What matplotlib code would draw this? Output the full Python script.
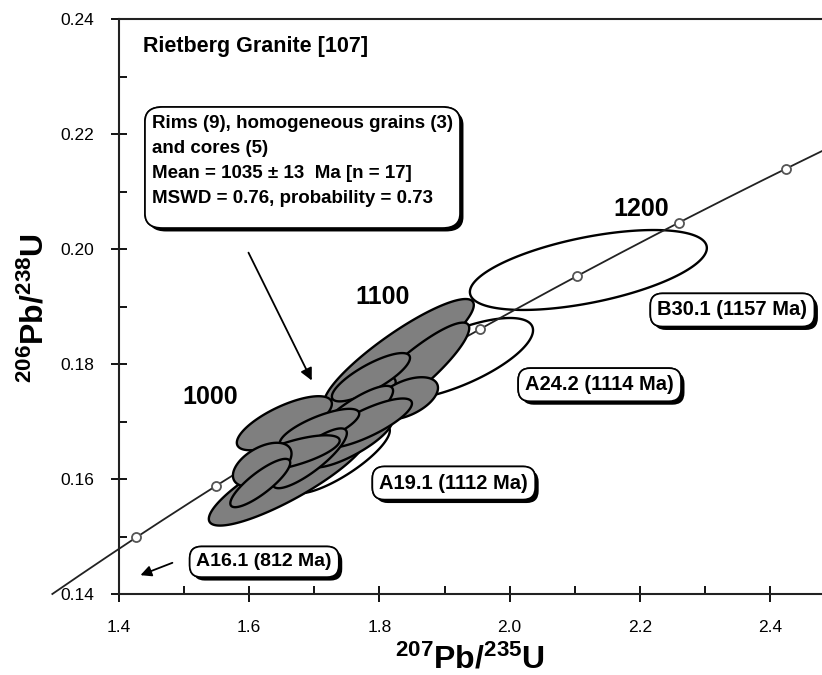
import numpy as np
import matplotlib
matplotlib.use("Agg")
import matplotlib.pyplot as plt
import matplotlib.patheffects as pe
from matplotlib.patches import FancyBboxPatch
from matplotlib.ticker import MultipleLocator

# --- data -------------------------------------------------------------
# decay constants (per year)
lam238 = 1.55125e-10
lam235 = 9.8485e-10

marker_ages = [900, 950, 1000, 1050, 1100, 1150, 1200, 1250]
label_ages = [1000, 1100, 1200]

# grey ellipses: rims, homogeneous grains and cores (x, sx, y, sy, rho)
grey_x = [1.830, 1.850, 1.660, 1.745, 1.755, 1.654, 1.787, 1.840, 1.757, 1.780, 1.708,
          1.693, 1.668, 1.620, 1.617]
grey_sx = [0.115, 0.088, 0.122, 0.080, 0.065, 0.073, 0.060, 0.050, 0.064, 0.070, 0.061,
           0.057, 0.071, 0.045, 0.046]
grey_y = [0.1818, 0.1785, 0.1602, 0.1718, 0.1665, 0.1697, 0.1777, 0.1740, 0.1708, 0.1697,
          0.1688, 0.1636, 0.1645, 0.1625, 0.1593]
grey_sy = [0.0095, 0.0087, 0.0083, 0.0060, 0.0045, 0.0047, 0.0042, 0.0037, 0.0054, 0.0043,
           0.0034, 0.0052, 0.0031, 0.0038, 0.0042]
grey_rho = [0.89, 0.89, 0.86, 0.84, 0.80, 0.72, 0.80, 0.50, 0.84, 0.80, 0.75,
            0.84, 0.70, 0.50, 0.84]

# discordant / older grains (white)
white_names = ["A19.1 (1112 Ma)", "A24.2 (1114 Ma)", "B30.1 (1157 Ma)"]
white_x = [1.740, 1.918, 2.121]
white_sx = [0.076, 0.118, 0.182]
white_y = [0.1635, 0.1809, 0.19635]
white_sy = [0.0060, 0.0071, 0.00695]
white_rho = [0.82, 0.70, 0.55]

box_text = ("Rims (9), homogeneous grains (3)\n"
            "and cores (5)\n"
            "Mean = 1035 \u00b1 13  Ma [n = 17]\n"
            "MSWD = 0.76, probability = 0.73")


def concordia(t_ma):
    t = np.asarray(t_ma) * 1e6
    return np.exp(lam235 * t) - 1, np.exp(lam238 * t) - 1


def ellipse(x0, sx, y0, sy, rho, n=200):
    a = np.linspace(0, 2 * np.pi, n)
    ex = x0 + sx * np.cos(a)
    ey = y0 + sy * (rho * np.cos(a) + np.sqrt(1 - rho ** 2) * np.sin(a))
    return ex, ey


plt.rcParams["font.family"] = ["Liberation Sans", "DejaVu Sans"]
plt.rcParams["mathtext.fontset"] = "custom"
plt.rcParams["mathtext.bf"] = "Liberation Sans:bold"
plt.rcParams["mathtext.rm"] = "Liberation Sans:bold"

fig = plt.figure(figsize=(8.22, 6.75), dpi=100)
ax = fig.add_axes([119 / 822, 1 - 594 / 675, 1 - 119 / 822, (594 - 19) / 675])
ax.set_xlim(1.4, 1.4 + (822 - 119) * 0.2 / 130.2)
ax.set_ylim(0.14, 0.24)

# white ellipses below the concordia line
for x0, sx, y0, sy, r in zip(white_x, white_sx, white_y, white_sy, white_rho):
    ex, ey = ellipse(x0, sx, y0, sy, r)
    ax.fill(ex, ey, facecolor="white", edgecolor="black", lw=1.7, zorder=1)

# concordia curve
t0 = np.log(1.14) / lam238 / 1e6
tt = np.linspace(t0, 1400, 400)
cx, cy = concordia(tt)
ax.plot(cx, cy, color="#222222", lw=1.3, zorder=2, clip_on=False)
mx, my = concordia(marker_ages)
ax.plot(mx, my, "o", ms=6.5, mfc="white", mec="#555555", mew=1.3, zorder=2)

# grey ellipses on top
for x0, sx, y0, sy, r in zip(grey_x, grey_sx, grey_y, grey_sy, grey_rho):
    ex, ey = ellipse(x0, sx, y0, sy, r)
    ax.fill(ex, ey, facecolor="#7f7f7f", edgecolor="black", lw=1.7, zorder=3)

# age labels on concordia
lab_pos = {1000: (1.540, 0.1743), 1100: (1.805, 0.1916), 1200: (2.202, 0.2069)}
for age in label_ages:
    ax.text(*lab_pos[age], str(age), fontsize=18, fontweight="bold",
            ha="center", va="center", zorder=5)

shadow = [pe.withSimplePatchShadow(offset=(2.5, -2.5), shadow_rgbFace="black", alpha=1.0),
          pe.Normal()]


def label_box(x, y, s, **kw):
    t = ax.text(x, y, s, fontweight="bold", zorder=6,
                bbox=dict(boxstyle="round,pad=0.35,rounding_size=0.6",
                          fc="white", ec="black", lw=1.2), **kw)
    t.get_bbox_patch().set_path_effects(shadow)
    return t


white_lab = [(1.800, 0.1593), (2.024, 0.1764), (2.227, 0.1894)]
for (lx, ly), s in zip(white_lab, white_names):
    label_box(lx, ly, s, fontsize=14.5, ha="left", va="center")
label_box(1.519, 0.1456, "A16.1 (812 Ma)", fontsize=14, ha="left", va="center")

# summary box
summary = FancyBboxPatch((26 / 703, 366 / 575), 315 / 703, 121 / 575,
                         boxstyle="round,pad=0,rounding_size=0.025",
                         transform=ax.transAxes, fc="white", ec="black", lw=1.2,
                         zorder=6)
summary.set_path_effects(shadow)
ax.add_patch(summary)
ax.text(33 / 703, 479 / 575, box_text, transform=ax.transAxes, fontsize=13.5,
        fontweight="bold", ha="left", va="top", linespacing=1.62, zorder=7)

ax.text(1.4365, 0.2352, "Rietberg Granite [107]", fontsize=15.5, fontweight="bold",
        ha="left", va="center")

ax.annotate("", xy=(1.698, 0.1767), xytext=(1.597, 0.1998),
            arrowprops=dict(arrowstyle="-|>", color="black", lw=1.3, mutation_scale=18))
ax.annotate("", xy=(1.429, 0.1431), xytext=(1.486, 0.1456),
            arrowprops=dict(arrowstyle="-|>", color="black", lw=1.3, mutation_scale=16),
            annotation_clip=False)

# axes styling
ax.spines["right"].set_visible(False)
for s in ["left", "bottom", "top"]:
    ax.spines[s].set_linewidth(1.5)
    ax.spines[s].set_color("#222222")
ax.xaxis.set_major_locator(MultipleLocator(0.2))
ax.xaxis.set_minor_locator(MultipleLocator(0.1))
ax.yaxis.set_major_locator(MultipleLocator(0.02))
ax.yaxis.set_minor_locator(MultipleLocator(0.01))
ax.tick_params(which="major", direction="inout", length=12, width=1.3, pad=12,
               labelsize=12.5)
ax.tick_params(axis="x", which="major", pad=13)
ax.tick_params(which="minor", direction="in", length=6, width=1.3)
ax.xaxis.set_major_formatter(plt.FuncFormatter(lambda v, p: f"{v:.1f}"))
ax.yaxis.set_major_formatter(plt.FuncFormatter(lambda v, p: f"{v:.2f}"))

fig.text(470 / 822, 1 - 660 / 675, r"$\mathbf{^{207}Pb/^{235}U}$", fontsize=23,
         ha="center", va="center")
fig.text(35 / 822, 1 - 308 / 675, r"$\mathbf{^{206}Pb/^{238}U}$", fontsize=23,
         ha="center", va="center", rotation=90)

fig.savefig("out.png", dpi=100)
